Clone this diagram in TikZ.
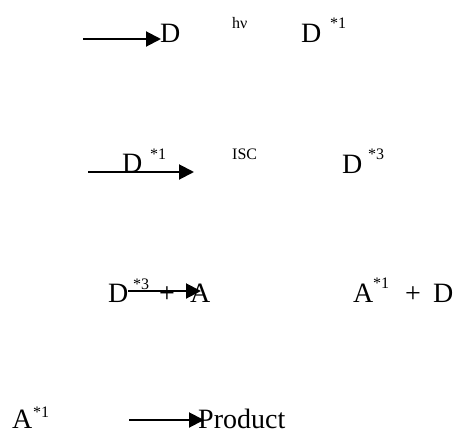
\documentclass[tikz,border=0pt]{standalone}
\usepackage{fontspec}
\setmainfont{Liberation Serif}
\usepackage{tikz}
\usetikzlibrary{arrows.meta}

\begin{document}
\begin{tikzpicture}[
    x=1pt,y=-1pt,
    species/.style={inner sep=0pt,anchor=base west,font=\fontsize{28}{30}\selectfont},
    tag/.style={inner sep=0pt,anchor=base west,font=\fontsize{16}{18}\selectfont},
    rxn/.style={-{Triangle[length=15pt,width=15pt]},line width=2pt}
  ]
    \useasboundingbox (0,0) rectangle (459,434);
    % absorption
    \node[species] (d0) at (160,42) {D};
    \node[tag] (hv) at (232,28) {hν};
    \node[species] (d1) at (301,42) {D};
    \node[tag] (d1s) at (330,28) {*1};
    \coordinate (r1a) at (83,39);
    \coordinate (r1b) at (161,39);
    \draw[rxn] (r1a) -- (r1b);
    % intersystem crossing
    \node[species] (d2) at (122,172) {D};
    \node[tag] (d2s) at (150,159) {*1};
    \node[tag] (isc) at (232,159) {ISC};
    \node[species] (d3) at (342,173) {D};
    \node[tag] (d3s) at (368,159) {*3};
    \coordinate (r2a) at (88,172);
    \coordinate (r2b) at (194,172);
    \draw[rxn] (r2a) -- (r2b);
    % energy transfer
    \node[species] (d4) at (108,302) {D};
    \node[tag] (d4s) at (133,289) {*3};
    \node[species] (p1) at (159,302) {+};
    \node[species] (a1) at (190,302) {A};
    \node[species] (a2) at (353,302) {A};
    \node[tag] (a2s) at (373,288) {*1};
    \node[species] (p2) at (405,302) {+};
    \node[species] (d5) at (433,302) {D};
    \coordinate (r3a) at (128,291);
    \coordinate (r3b) at (201,291);
    \draw[rxn] (r3a) -- (r3b);
    % reaction
    \node[species] (a3) at (12,428) {A};
    \node[tag] (a3s) at (33,417) {*1};
    \node[species] (prod) at (198,428) {Product};
    \coordinate (r4a) at (129,420);
    \coordinate (r4b) at (204,420);
    \draw[rxn] (r4a) -- (r4b);
\end{tikzpicture}
\end{document}
